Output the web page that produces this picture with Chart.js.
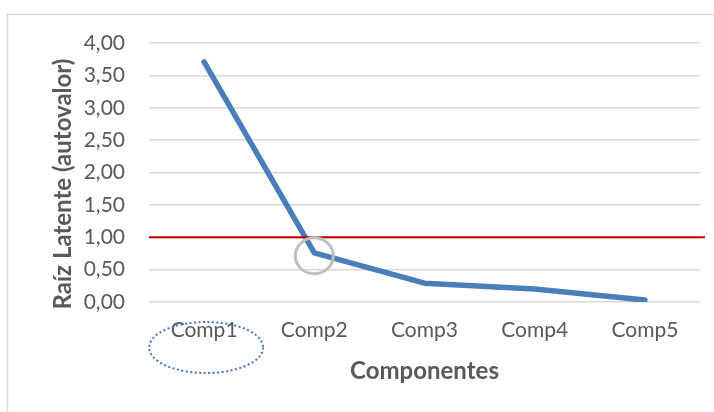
<!DOCTYPE html>
<html>
<head>
<meta charset="utf-8">
<script src="https://cdn.jsdelivr.net/npm/chart.js@4.4.1/dist/chart.umd.min.js"></script>
<style>
  html, body { margin: 0; padding: 0; background: #ffffff; }
  #wrap { width: 714px; height: 412px; }
</style>
</head>
<body>
<div id="wrap"><canvas id="c" width="714" height="412"></canvas></div>
<script>
// Scree plot: eigenvalue of each component, with the Kaiser cut-off at 1
const componentes = ['Comp1', 'Comp2', 'Comp3', 'Comp4', 'Comp5'];
const autovalores = [3.71, 0.76, 0.29, 0.20, 0.03];
const yTickLabels = ['0,00', '0,50', '1,00', '1,50', '2,00', '2,50', '3,00', '3,50', '4,00'];
const criterio = 1.0;

const FONT = 'Lato, "Open Sans", sans-serif';
const GREY_TEXT = '#595959';

const decorations = {
  id: 'decorations',
  beforeDraw(chart) {
    const ctx = chart.ctx;
    ctx.save();
    ctx.strokeStyle = '#d9d9d9';
    ctx.lineWidth = 1.5;
    ctx.strokeRect(7.5, 14.5, 760, 460);
    ctx.restore();
  },
  afterDatasetsDraw(chart) {
    const ctx = chart.ctx;
    const x = chart.scales.x, y = chart.scales.y;
    const area = chart.chartArea;
    // cut-off line
    const yc = y.getPixelForValue(criterio);
    ctx.save();
    ctx.strokeStyle = '#c00000';
    ctx.lineWidth = 2;
    ctx.beginPath();
    ctx.moveTo(area.left, yc);
    ctx.lineTo(area.right + 5, yc);
    ctx.stroke();
    // ring at the elbow of the curve
    const px = x.getPixelForValue(1);
    const py = y.getPixelForValue(autovalores[1]);
    ctx.strokeStyle = '#bfbfbf';
    ctx.lineWidth = 3;
    ctx.beginPath();
    ctx.ellipse(px, py + 3, 19, 18, 0, 0, Math.PI * 2);
    ctx.stroke();
    // dotted ellipse around the first component label
    const lx = x.getPixelForValue(0);
    ctx.strokeStyle = '#4472c4';
    ctx.lineWidth = 2;
    ctx.setLineDash([2, 2.5]);
    ctx.beginPath();
    ctx.ellipse(lx + 2, area.bottom + 45.5, 57, 25.5, 0, 0, Math.PI * 2);
    ctx.stroke();
    ctx.setLineDash([]);
    // vertical axis title
    ctx.fillStyle = GREY_TEXT;
    ctx.font = 'bold 24px ' + FONT;
    ctx.textAlign = 'center';
    ctx.textBaseline = 'middle';
    ctx.translate(63, 184);
    ctx.rotate(-Math.PI / 2);
    ctx.fillText('Raíz Latente (autovalor)', 0, 0);
    ctx.restore();
  }
};

new Chart(document.getElementById('c'), {
  type: 'line',
  data: {
    labels: componentes,
    datasets: [{
      data: autovalores,
      borderColor: '#4a7ebb',
      borderWidth: 5.5,
      borderCapStyle: 'round',
      borderJoinStyle: 'round',
      pointRadius: 0,
      tension: 0,
      fill: false
    }]
  },
  options: {
    responsive: false,
    animation: false,
    layout: { padding: { left: 0, top: 43, right: 14, bottom: 0 } },
    plugins: { legend: { display: false }, tooltip: { enabled: false } },
    scales: {
      x: {
        offset: true,
        grid: { display: false, drawTicks: false },
        border: { display: false },
        ticks: { color: GREY_TEXT, font: { family: FONT, size: 21 }, padding: 16, maxRotation: 0 },
        title: { display: true, text: 'Componentes', color: GREY_TEXT, font: { family: FONT, size: 24, weight: 'bold' }, padding: { top: 0, bottom: 26 } },
        afterFit(s) { s.height = 110; }
      },
      y: {
        min: 0, max: 4,
        grid: { color: '#d9d9d9', lineWidth: 1.5, drawTicks: false },
        border: { display: false },
        ticks: {
          stepSize: 0.5,
          color: GREY_TEXT,
          font: { family: FONT, size: 21 },
          padding: 24,
          callback: (v, i) => yTickLabels[i]
        },
        afterFit(s) { s.width = 149; }
      }
    }
  },
  plugins: [decorations]
});
</script>
</body>
</html>
